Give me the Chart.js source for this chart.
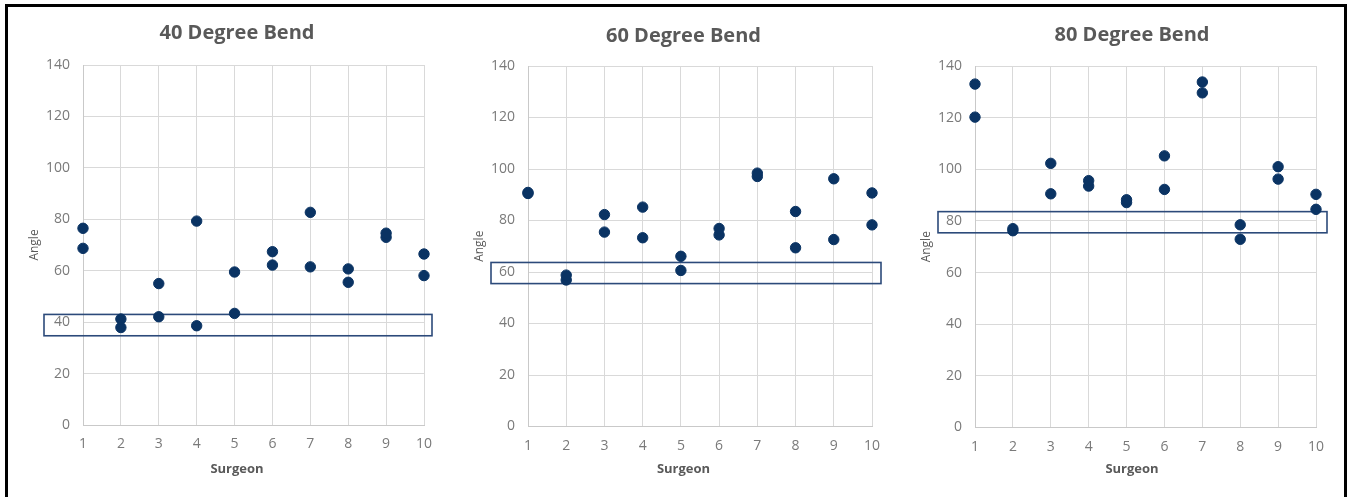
<!DOCTYPE html>
<html>
<head>
<meta charset="utf-8">
<script src="https://cdn.jsdelivr.net/npm/chart.js"></script>
<style>
  html, body { margin: 0; padding: 0; background: #fff; overflow: hidden; }
  #frame { position: absolute; left: 5px; top: 4px; width: 1342px; height: 600px; box-sizing: border-box; border: 3px solid #000; }
  canvas { position: absolute; top: 8px; }
</style>
</head>
<body>
<div id="frame"></div>
<canvas id="bend40" width="444" height="485" style="left:15px"></canvas>
<canvas id="bend60" width="447" height="485" style="left:460px"></canvas>
<canvas id="bend80" width="450" height="485" style="left:907px"></canvas>
<script>
// surgeons and the two measured angles for each
var surgeons = [1, 2, 3, 4, 5, 6, 7, 8, 9, 10];

var bend40A = [76.5, 41.2, 55.0, 79.3, 59.5, 67.4, 82.7, 60.7, 74.6, 66.5];
var bend40B = [68.7, 37.9, 42.1, 38.6, 43.4, 62.2, 61.5, 55.5, 73.0, 58.1];

var bend60A = [90.9, 58.8, 82.3, 85.2, 66.1, 76.9, 98.4, 83.5, 96.2, 90.7];
var bend60B = [90.5, 56.9, 75.5, 73.3, 60.6, 74.4, 97.1, 69.4, 72.6, 78.3];

var bend80A = [133.0, 77.0, 102.3, 95.6, 88.2, 105.2, 133.8, 78.5, 101.0, 90.3];
var bend80B = [120.2, 76.2, 90.5, 93.5, 87.1, 92.2, 129.6, 72.9, 96.2, 84.5];

// target band (low, high) drawn as a box on each chart
var band40 = [34.7, 43.0];
var band60 = [55.5, 63.7];
var band80 = [75.4, 83.6];

var yTicks = { min: 0, max: 140, step: 20 };
var xTicks = { min: 1, max: 10, step: 1 };

var bandBox = {
	id: 'bandBox',
	beforeDatasetsDraw: function (chart, args, opts) {
		if (!opts.range) return;
		var ctx = chart.ctx, y = chart.scales.y, area = chart.chartArea;
		var top = y.getPixelForValue(opts.range[1]);
		var bottom = y.getPixelForValue(opts.range[0]);
		ctx.save();
		ctx.strokeStyle = '#2c4a7a';
		ctx.lineWidth = 1.6;
		ctx.strokeRect(area.left - opts.left, top, (area.right + opts.right) - (area.left - opts.left), bottom - top);
		ctx.restore();
	}
};

// x axis title, centred under the chart title like in Excel
var xLabel = {
	id: 'xLabel',
	afterDraw: function (chart, args, opts) {
		var ctx = chart.ctx;
		ctx.save();
		ctx.fillStyle = '#595959';
		ctx.font = 'bold 13px "Open Sans"';
		ctx.textAlign = 'center';
		ctx.textBaseline = 'middle';
		ctx.fillText(opts.text, chart.width / 2, opts.y);
		ctx.restore();
	}
};

function pts(vals) {
	return surgeons.map(function (s, i) { return { x: s, y: vals[i] }; });
}

function makeChart(id, title, a, b, band, o) {
	return new Chart(document.getElementById(id), {
		type: 'scatter',
		data: {
			datasets: [
				{ data: pts(a), backgroundColor: '#0a3363', borderColor: '#0a3363', pointRadius: 5.2, clip: false },
				{ data: pts(b), backgroundColor: '#0a3363', borderColor: '#0a3363', pointRadius: 5.2, clip: false }
			]
		},
		options: {
			responsive: false,
			animation: false,
			layout: { padding: 0 },
			plugins: {
				legend: { display: false },
				tooltip: { enabled: false },
				title: {
					display: true,
					text: title,
					color: '#595959',
					font: { family: 'Open Sans', size: 20, weight: 'bold' },
					padding: { top: o.titleTop, bottom: o.titleBottom }
				},
				bandBox: { range: band, left: o.boxLeft, right: o.boxRight },
				xLabel: { text: 'Surgeon', y: 461 }
			},
			scales: {
				x: {
					type: 'linear',
					min: xTicks.min, max: xTicks.max,
					ticks: { stepSize: xTicks.step, color: '#7a7a7a', padding: 11, font: { family: 'Open Sans', size: 14 } },
					grid: { color: '#d9d9d9', drawTicks: false },
					border: { color: '#c9c9c9' },
					afterFit: function (s) { s.height = o.xHeight; }
				},
				y: {
					min: yTicks.min, max: yTicks.max,
					ticks: { stepSize: yTicks.step, color: '#7a7a7a', padding: 13, font: { family: 'Open Sans', size: 14 } },
					grid: { color: '#d9d9d9', drawTicks: false },
					border: { color: '#c9c9c9' },
					title: { display: true, text: 'Angle', color: '#595959', font: { family: 'Open Sans', size: 12 }, padding: { top: 12, bottom: 0 } },
					afterFit: function (s) { s.width = 68; }
				},
				// empty spacer on the right so the title sits where it does in the original
				spacer: {
					axis: 'y',
					position: 'right',
					grid: { display: false },
					ticks: { display: false },
					border: { display: false },
					afterFit: function (s) { s.width = o.spacer; }
				}
			}
		},
		plugins: [bandBox, xLabel]
	});
}

makeChart('bend40', '40 Degree Bend', bend40A, bend40B, band40,
	{ spacer: 35, titleTop: 13, titleBottom: 20, xHeight: 68, boxLeft: 39, boxRight: 8 });
makeChart('bend60', '60 Degree Bend', bend60A, bend60B, band60,
	{ spacer: 35, titleTop: 16, titleBottom: 18, xHeight: 66.5, boxLeft: 37, boxRight: 9 });
makeChart('bend80', '80 Degree Bend', bend80A, bend80B, band80,
	{ spacer: 41, titleTop: 15.5, titleBottom: 18.5, xHeight: 65.5, boxLeft: 37, boxRight: 11 });
</script>
</body>
</html>
